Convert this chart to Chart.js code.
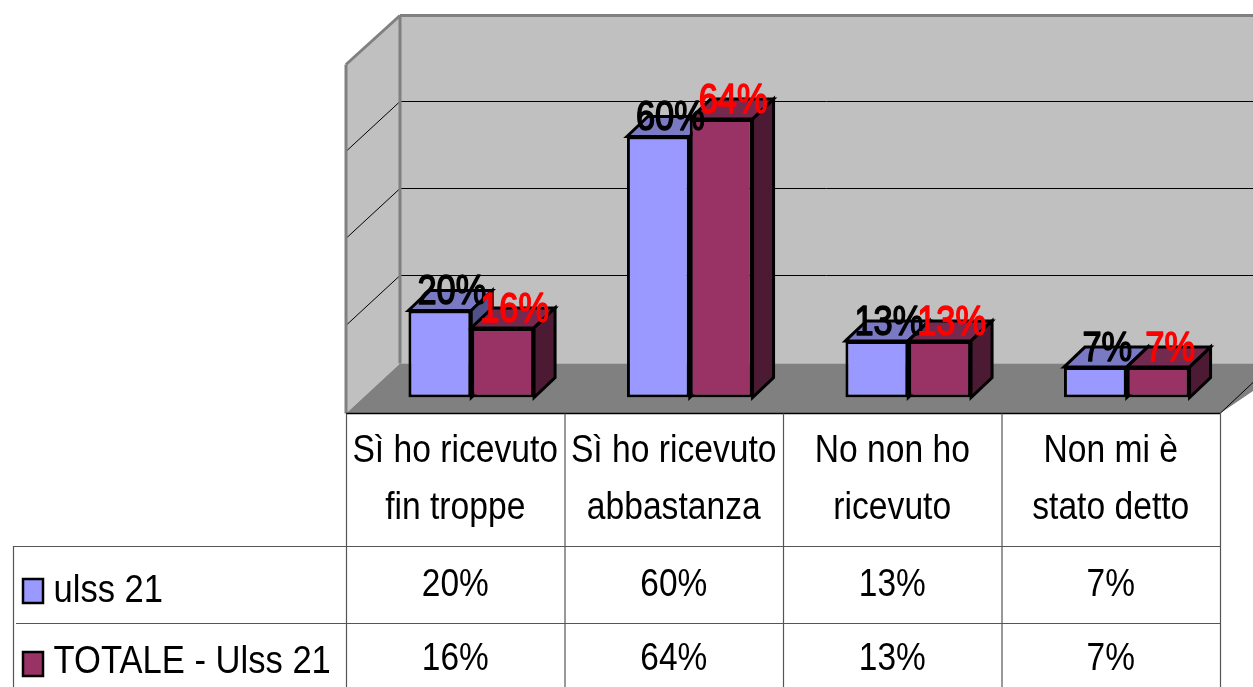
<!DOCTYPE html>
<html><head><meta charset="utf-8">
<style>html,body{margin:0;padding:0;background:#fff;overflow:hidden}canvas{display:block}</style>
<script src="https://cdn.jsdelivr.net/npm/chart.js@4"></script>
</head><body><canvas id="c" width="1253" height="687"></canvas>
<script>
const categories = [["Sì ho ricevuto","fin troppe"],["Sì ho ricevuto","abbastanza"],["No non ho","ricevuto"],["Non mi è","stato detto"]];
const seriesNames = ["ulss 21","TOTALE - Ulss 21"];
const ulss21 = [20,60,13,7];
const totale = [16,64,13,7];
const gridValues = [20,40,60];
const FONT = '"Liberation Sans", Arial, sans-serif';
const fronts = ['#9999ff','#993366'], tops = ['#7a7ac4','#74294f'], sides = ['#4f5188','#4d1a33'], labelColors = ['#000','#f00'];
const D = 21, DY = 20;            // bar depth
const WX = 38, WY = 34;           // bar plane -> back wall
const FX = 16, FY = 16;           // bar plane -> front edge

function poly(ctx, pts, fill, stroke, lw){
  ctx.beginPath(); pts.forEach((p,i)=> i?ctx.lineTo(p[0],p[1]):ctx.moveTo(p[0],p[1])); ctx.closePath();
  if(fill){ctx.fillStyle=fill;ctx.fill();}
  if(stroke){ctx.strokeStyle=stroke;ctx.lineWidth=lw;ctx.lineJoin='miter';ctx.stroke();}
}
function line(ctx,x1,y1,x2,y2,c,lw){ctx.beginPath();ctx.moveTo(x1,y1);ctx.lineTo(x2,y2);ctx.strokeStyle=c;ctx.lineWidth=lw;ctx.stroke();}
function text(ctx,s,cx,cy,size,sx,color,bold,align){
  ctx.save(); ctx.translate(cx,cy); ctx.scale(sx,1);
  ctx.font=size+'px '+FONT; ctx.fillStyle=color; ctx.textAlign=align||'center'; ctx.textBaseline='middle';
  if(bold){ctx.strokeStyle=color;ctx.lineWidth=bold;ctx.lineJoin='round';ctx.strokeText(s,0,0);}
  ctx.fillText(s,0,0); ctx.restore();
}
const scene = {
  id:'scene',
  beforeDatasetsDraw(chart){
    const ctx=chart.ctx, y=chart.scales.y, a=chart.chartArea;
    const y0=y.getPixelForValue(0), yT=y.getPixelForValue(80);
    const bx=a.left+WX, fx=a.left-FX, frx=a.right-FX, W=chart.width;
    ctx.save();
    // back wall
    poly(ctx,[[bx,yT-WY],[W+4,yT-WY],[W+4,y0-WY],[bx,y0-WY]],'#c0c0c0');
    // side wall
    poly(ctx,[[fx,yT-WY+49],[bx,yT-WY],[bx,y0-WY],[fx,y0+FY]],'#c0c0c0');
    // floor
    poly(ctx,[[bx,y0-WY],[W+40,y0-WY],[frx,y0+FY],[fx,y0+FY]],'#808080');
    // grid lines
    gridValues.forEach(v=>{
      const p=y.getPixelForValue(v)-WY-1;
      line(ctx,bx,p,W,p,'#000',1);
      line(ctx,bx,p,fx+1,p+49,'#000',1);
    });
    // wall frame
    ctx.lineCap='butt';
    line(ctx,fx,y0+FY,fx,yT-WY+49,'#808080',3);
    line(ctx,fx,yT-WY+49,bx,yT-WY,'#808080',3);
    line(ctx,bx,yT-WY,W,yT-WY,'#808080',3);
    line(ctx,bx,yT-WY,bx,y0-WY,'#808080',3);
    line(ctx,frx,y0+FY,W,y0+FY-31,'#000',1);
    // depth faces of the bars
    chart.data.datasets.forEach((ds,i)=>{
      chart.getDatasetMeta(i).data.forEach(b=>{
        const l=b.x-b.width/2, r=b.x+b.width/2, t=b.y, bo=b.base;
        poly(ctx,[[l,t],[l+D,t-DY],[r+D,t-DY],[r,t]],tops[i],'#000',3);
        poly(ctx,[[r,t],[r+D,t-DY],[r+D,bo-DY],[r,bo]],sides[i],'#000',3);
      });
    });
    ctx.restore();
  },
  afterDatasetsDraw(chart){
    const ctx=chart.ctx, a=chart.chartArea, xs=chart.scales.x, y=chart.scales.y, H=chart.height;
    const y0=y.getPixelForValue(0);
    ctx.save();
    // table rules
    const fl=y0+FY;
    line(ctx,a.left-FX,fl,a.right-FX,fl,'#000',1.5);
    const tx=i=>a.left-FX+(a.right-a.left)*i/4;
    [0,1,2,3,4].forEach(i=>line(ctx,tx(i)+.5,fl,tx(i)+.5,H,'#555',1.2));
    line(ctx,13,546.5,tx(4),546.5,'#555',1.2);
    line(ctx,16,623.5,tx(4),623.5,'#555',1);
    line(ctx,13.5,546,13.5,H,'#555',1.2);
    // column headers and values
    chart.data.labels.forEach((lab,i)=>{
      const cx=xs.getPixelForValue(i)-FX;
      text(ctx,lab[0],cx,451.5,38,.885,'#000');
      text(ctx,lab[1],cx,508.5,38,.885,'#000');
      text(ctx,ulss21[i]+'%',cx,586,38,.88,'#000');
      text(ctx,totale[i]+'%',cx,660,38,.88,'#000');
    });
    // legend keys
    [[23,579,592],[23,652,662.5]].forEach((k,i)=>{
      poly(ctx,[[k[0],k[1]],[k[0]+20,k[1]],[k[0]+20,k[1]+24],[k[0],k[1]+24]],fronts[i],'#000',2.5);
      text(ctx,seriesNames[i],53.5,k[2],38,.91,'#000',0,'left');
    });
    // bar value labels
    chart.data.datasets.forEach((ds,i)=>{
      chart.getDatasetMeta(i).data.forEach((b,j)=>{
        text(ctx,ds.data[j]+'%',b.x+12,b.y-18,43,.8,labelColors[i],1.6);
      });
    });
    ctx.restore();
  }
};
new Chart(document.getElementById('c'),{
  type:'bar',
  data:{labels:categories,datasets:[
    {label:seriesNames[0],data:ulss21,backgroundColor:fronts[0],borderColor:'#000',borderWidth:3,borderSkipped:false},
    {label:seriesNames[1],data:totale,backgroundColor:fronts[1],borderColor:'#000',borderWidth:3,borderSkipped:false}
  ]},
  options:{
    responsive:false,animation:false,devicePixelRatio:1,
    layout:{padding:{left:362,right:17,top:49.5,bottom:289.5}},
    categoryPercentage:.575,barPercentage:1,
    plugins:{legend:{display:false},tooltip:{enabled:false},title:{display:false}},
    scales:{
      x:{display:false,grid:{display:false}},
      y:{display:false,min:0,max:80,grid:{display:false}}
    }
  },
  plugins:[scene]
});
</script></body></html>
